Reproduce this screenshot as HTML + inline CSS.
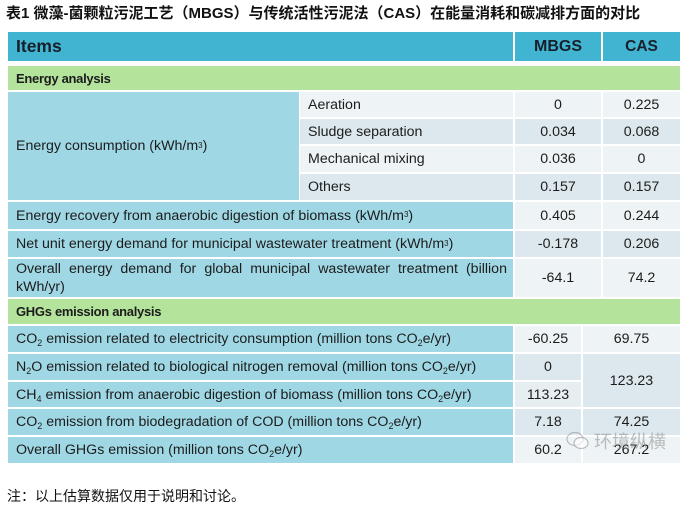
<!DOCTYPE html>
<html>
<head>
<meta charset="utf-8">
<style>
*{margin:0;padding:0;box-sizing:border-box;}
html,body{width:689px;height:510px;background:#fff;overflow:hidden;}
body{position:relative;font-family:"Liberation Sans","Noto Sans CJK SC",sans-serif;color:#1c1c1c;}
.c{position:absolute;display:flex;align-items:center;font-size:14.2px;white-space:nowrap;}
.l{padding-left:8px;}
.m{justify-content:center;}
.hd{background:#41b4d2;font-weight:bold;color:#17202a;}
.gr{background:#b4e39c;font-weight:bold;font-size:13px;letter-spacing:-0.3px;}
.lb{background:#9fd8e4;}
.v1{background:#eef3f5;}
.v2{background:#dce8ed;}
sup{font-size:8px;vertical-align:top;position:relative;top:-1px;}
sub{font-size:9px;vertical-align:baseline;position:relative;top:4px;}
.title{position:absolute;left:6px;top:2px;font-size:15px;font-weight:bold;white-space:nowrap;color:#111;font-family:"Liberation Sans","Noto Sans CJK SC",sans-serif;}
.note{position:absolute;left:7px;top:486px;font-size:14px;white-space:nowrap;color:#111;font-family:"Liberation Sans","Noto Sans CJK SC",sans-serif;}
.wm{position:absolute;left:594px;top:428px;font-size:18px;color:rgba(140,140,140,0.55);font-family:"Noto Sans CJK SC",sans-serif;white-space:nowrap;}
</style>
</head>
<body>
<div class="title">表1 微藻-菌颗粒污泥工艺（MBGS）与传统活性污泥法（CAS）在能量消耗和碳减排方面的对比</div>

<!-- Header -->
<div class="c hd l" style="left:8px;top:32px;width:505px;height:29px;font-size:17.5px;">Items</div>
<div class="c hd m" style="left:515px;top:32px;width:86px;height:29px;font-size:16px;">MBGS</div>
<div class="c hd m" style="left:603px;top:32px;width:77px;height:29px;font-size:15.5px;">CAS</div>

<!-- Energy analysis -->
<div class="c gr l" style="left:8px;top:66px;width:672px;height:24px;">Energy analysis</div>

<div class="c lb l" style="left:8px;top:92px;width:291px;height:108px;">Energy consumption (kWh/m<sup>3</sup>)</div>

<div class="c v1 l" style="left:300px;top:92px;width:213px;height:25px;">Aeration</div>
<div class="c v1 m" style="left:515px;top:92px;width:86px;height:25px;">0</div>
<div class="c v1 m" style="left:603px;top:92px;width:77px;height:25px;">0.225</div>

<div class="c v2 l" style="left:300px;top:119px;width:213px;height:25px;">Sludge separation</div>
<div class="c v2 m" style="left:515px;top:119px;width:86px;height:25px;">0.034</div>
<div class="c v2 m" style="left:603px;top:119px;width:77px;height:25px;">0.068</div>

<div class="c v1 l" style="left:300px;top:146px;width:213px;height:26px;">Mechanical mixing</div>
<div class="c v1 m" style="left:515px;top:146px;width:86px;height:26px;">0.036</div>
<div class="c v1 m" style="left:603px;top:146px;width:77px;height:26px;">0</div>

<div class="c v2 l" style="left:300px;top:174px;width:213px;height:26px;">Others</div>
<div class="c v2 m" style="left:515px;top:174px;width:86px;height:26px;">0.157</div>
<div class="c v2 m" style="left:603px;top:174px;width:77px;height:26px;">0.157</div>

<div class="c lb l" style="left:8px;top:202px;width:505px;height:27px;">Energy recovery from anaerobic digestion of biomass (kWh/m<sup>3</sup>)</div>
<div class="c v1 m" style="left:515px;top:202px;width:86px;height:27px;">0.405</div>
<div class="c v1 m" style="left:603px;top:202px;width:77px;height:27px;">0.244</div>

<div class="c lb l" style="left:8px;top:231px;width:505px;height:26px;">Net unit energy demand for municipal wastewater treatment (kWh/m<sup>3</sup>)</div>
<div class="c v2 m" style="left:515px;top:231px;width:86px;height:26px;">-0.178</div>
<div class="c v2 m" style="left:603px;top:231px;width:77px;height:26px;">0.206</div>

<div class="lb" style="position:absolute;left:8px;top:259px;width:505px;height:38px;font-size:14.2px;padding:1px 6px 0 8px;line-height:18px;">
<div style="white-space:nowrap;display:flex;justify-content:space-between;"><span>Overall</span><span>energy</span><span>demand</span><span>for</span><span>global</span><span>municipal</span><span>wastewater</span><span>treatment</span><span>(billion</span></div>
<div>kWh/yr)</div>
</div>
<div class="c v1 m" style="left:515px;top:259px;width:86px;height:38px;">-64.1</div>
<div class="c v1 m" style="left:603px;top:259px;width:77px;height:38px;">74.2</div>

<!-- GHGs -->
<div class="c gr l" style="left:8px;top:299px;width:672px;height:25px;">GHGs emission analysis</div>

<div class="c lb l" style="left:8px;top:326px;width:505px;height:26px;">CO<sub>2</sub>&nbsp;emission related to electricity consumption (million tons CO<sub>2</sub>e/yr)</div>
<div class="c v1 m" style="left:515px;top:326px;width:66px;height:26px;">-60.25</div>
<div class="c v1 m" style="left:583px;top:326px;width:97px;height:26px;">69.75</div>

<div class="c lb l" style="left:8px;top:354px;width:505px;height:26px;">N<sub>2</sub>O emission related to biological nitrogen removal (million tons CO<sub>2</sub>e/yr)</div>
<div class="c v2 m" style="left:515px;top:354px;width:66px;height:26px;">0</div>
<div class="c v2 m" style="left:583px;top:354px;width:97px;height:53px;">123.23</div>

<div class="c lb l" style="left:8px;top:382px;width:505px;height:25px;">CH<sub>4</sub>&nbsp;emission from anaerobic digestion of biomass (million tons CO<sub>2</sub>e/yr)</div>
<div class="c m" style="left:515px;top:382px;width:66px;height:25px;background:#e6eef1;">113.23</div>

<div class="c lb l" style="left:8px;top:409px;width:505px;height:26px;">CO<sub>2</sub>&nbsp;emission from biodegradation of COD (million tons CO<sub>2</sub>e/yr)</div>
<div class="c v2 m" style="left:515px;top:409px;width:66px;height:26px;">7.18</div>
<div class="c v2 m" style="left:583px;top:409px;width:97px;height:26px;">74.25</div>

<div class="c lb l" style="left:8px;top:437px;width:505px;height:26px;">Overall GHGs emission (million tons CO<sub>2</sub>e/yr)</div>
<div class="c v1 m" style="left:515px;top:437px;width:66px;height:26px;">60.2</div>
<div class="c v1 m" style="left:583px;top:437px;width:97px;height:26px;">267.2</div>

<!-- watermark -->
<svg style="position:absolute;left:565px;top:430px;" width="26" height="22" viewBox="0 0 26 22">
<ellipse cx="10" cy="9" rx="8" ry="6.5" fill="none" stroke="rgba(150,150,150,0.6)" stroke-width="1.2"/>
<ellipse cx="16" cy="13" rx="7" ry="5.5" fill="rgba(255,255,255,0.6)" stroke="rgba(150,150,150,0.6)" stroke-width="1.2"/>
</svg>
<div class="wm">环境纵横</div>

<div class="note">注：以上估算数据仅用于说明和讨论。</div>
</body>
</html>
